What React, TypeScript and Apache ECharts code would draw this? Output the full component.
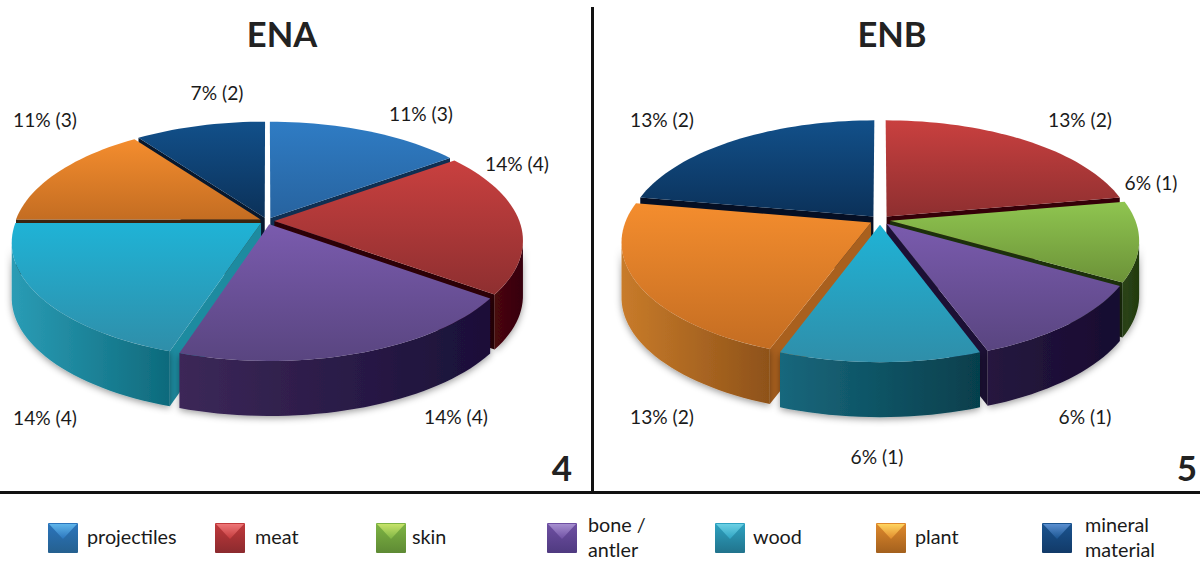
import React, { useEffect, useRef } from "react";
import * as echarts from "echarts";

const categories = ["projectiles", "meat", "skin", "bone / antler", "wood", "plant", "mineral material"];
const enaCounts = [3, 4, 0, 4, 4, 3, 2];
const enaPercents = [11, 14, 0, 14, 14, 11, 7];
const enbCounts = [0, 2, 1, 1, 1, 2, 2];
const enbPercents = [0, 13, 6, 6, 6, 13, 13];

const FONT = "Lato, 'Open Sans', sans-serif";
const topColors = [
  ["#2f7cc4", "#27639f"], ["#c9403f", "#8e2f30"], ["#8fc550", "#6c9238"], ["#7a5bae", "#594580"],
  ["#1fb3d6", "#2f8ea9"], ["#f48d2e", "#c46d22"], ["#12508a", "#0b3159"],
];
const enaWalls = [
  ["#1f4f80", "#123558"], ["#4a0810", "#36000a"], ["#2c4514", "#223a10"], ["#3c2858", "#1a0f38"],
  ["#2a9cb5", "#0e6a7c"], ["#c87b2a", "#8e5219"], ["#0d2f52", "#0a2340"],
];
const enbWalls = [
  ["#1f4f80", "#123558"], ["#4a0810", "#36000a"], ["#2c4514", "#223a10"], ["#26163f", "#170c30"],
  ["#17677c", "#063f4c"], ["#c87b2a", "#8e5219"], ["#0d2f52", "#0a2340"],
];
const swatch = [
  ["#2b75bd", "#25608f", "#5fb5ea"], ["#c23a3c", "#8b2a2e", "#ee7677"], ["#7fb544", "#5e8a34", "#c6e36a"],
  ["#6f50a3", "#4f3a80", "#a68fd0"], ["#2ea3c2", "#21738c", "#6bd0e4"], ["#e08a2c", "#a3601d", "#ffd45f"],
  ["#1a5490", "#123a68", "#5a8fd0"],
];
const legendX = [48, 215, 376, 547, 715, 876, 1042];
const legendTextX = [87, 255, 412, 588, 753, 915, 1085];
const enaLabelPos = [[421, 113], [517, 163], null, [456, 416], [45, 417], [45, 119], [217, 92]];
const enbLabelPos = [null, [1080, 119], [1151, 182], [1085, 416], [877, 456], [662, 416], [662, 119]];
const enaCut = ["#0f2f52", "#2c0006", "", "#2a1a48", "#1d8ba0", "#3a2410", "#07182e"];
const enbCut = ["", "#350008", "#1c300c", "#1c1035", "#1d8ba0", "#a9601e", "#050f24"];

const K = 0.165, RX = 245, RY = 113, DEPTH = 55;

function pieSeries(name: string, counts: number[], percents: number[], cx: number, cy: number,
  explode: number, labelPos: any[], cut: string[], walls: string[][]) {
  const idx = counts.map((c, i) => i).filter((i) => counts[i] > 0);
  const total = counts.reduce((a, b) => a + b, 0);
  const starts: Record<number, number> = {};
  let acc = 0;
  idx.forEach((i) => { starts[i] = acc; acc += counts[i]; });
  return {
    type: "custom", name, coordinateSystem: "none", silent: true, clip: false,
    data: idx.map((i) => [counts[i], i, percents[i]]),
    renderItem: (_p: any, api: any) => {
      const val = api.value(0), cat = api.value(1), pct = api.value(2);
      const a0 = (starts[cat] / total) * 360, a1 = ((starts[cat] + val) / total) * 360;
      const rad = (d: number) => (d * Math.PI) / 180;
      const mid = (a0 + a1) / 2;
      const ox = Math.sin(rad(mid)) * explode, oz = -Math.cos(rad(mid)) * explode;
      const pr = (mx: number, mz: number, h: number) => {
        const s = 1 / (1 - K * mz);
        return [cx + RX * mx * s, cy + RY * mz * s + h * DEPTH];
      };
      const rim = (d: number, h: number) => pr(ox + Math.sin(rad(d)), oz - Math.cos(rad(d)), h);
      const apex = (h: number) => pr(ox, oz, h);
      const arc = (from: number, to: number, h: number) => {
        const n = Math.max(2, Math.ceil(Math.abs(to - from) / 2));
        const out = [];
        for (let j = 0; j <= n; j++) out.push(rim(from + ((to - from) * j) / n, h));
        return out;
      };
      const order = Math.round(-Math.cos(rad(mid)) * 1000) + 2000;
      const children: any[] = [];
      const vis0 = Math.max(a0, 99), vis1 = Math.min(a1, 261);
      const grad = (c: string[], x2: number, y2: number) =>
        new echarts.graphic.LinearGradient(0, 0, x2, y2, [{ offset: 0, color: c[0] }, { offset: 1, color: c[1] }]);
      const faces: number[] = [];
      if (-Math.cos(rad(a0 - 90)) > 0) faces.push(a0);
      if (-Math.cos(rad(a1 + 90)) > 0) faces.push(a1);
      faces.forEach((d) => {
        children.push({
          type: "polygon", z2: order,
          shape: { points: [apex(0), rim(d, 0), rim(d, 1), apex(1)] },
          style: { fill: cut[cat] },
        });
      });
      if (vis1 > vis0) {
        children.push({
          type: "polygon", z2: order + 1,
          shape: { points: [...arc(vis0, vis1, 0), ...arc(vis1, vis0, 1)] },
          style: {
            fill: grad(walls[cat], 1, 0),
            shadowBlur: 7, shadowColor: "rgba(0,0,0,0.4)", shadowOffsetY: 2,
          },
        });
      }
      children.push({
        type: "polygon", z2: order + 2,
        shape: { points: [apex(0), ...arc(a0, a1, 0)] },
        style: { fill: grad(topColors[cat], 0, 1) },
      });
      const lp = labelPos[cat];
      children.push({
        type: "text", z2: 9000,
        style: {
          text: `${pct}% (${val})`, x: lp[0], y: lp[1], align: "center", verticalAlign: "middle",
          font: `19.2px ${FONT}`, fill: "#1a1a1a",
        },
      });
      return { type: "group", children };
    },
  };
}

function legendGraphics() {
  const out: any[] = [];
  categories.forEach((c, i) => {
    const x = legendX[i], y = 523, w = 30, h = 30;
    out.push({
      type: "rect", shape: { x, y, width: w, height: h, r: 1 },
      style: {
        fill: new echarts.graphic.LinearGradient(0, 0, 0, 1, [
          { offset: 0, color: swatch[i][0] }, { offset: 1, color: swatch[i][1] },
        ]),
      },
    });
    out.push({
      type: "polygon", shape: { points: [[x + 1, y + 1], [x + w - 1, y + 1], [x + w / 2, y + 16]] },
      style: {
        fill: new echarts.graphic.LinearGradient(0, 0, 0, 1, [
          { offset: 0, color: swatch[i][2] }, { offset: 1, color: swatch[i][0] },
        ]),
      },
    });
    const words = c.startsWith("bone") ? ["bone /", "antler"] : c.startsWith("mineral") ? ["mineral", "material"] : [c];
    words.forEach((t, j) => {
      const ty = words.length === 1 ? 536 : 524 + j * 25;
      out.push({
        type: "text",
        style: { text: t, x: legendTextX[i], y: ty, align: "left", verticalAlign: "middle", font: `19.8px ${FONT}`, fill: "#1a1a1a" },
      });
    });
  });
  return out;
}

function big(text: string, x: number, y: number, size: number) {
  return {
    type: "text",
    style: { text, x, y, align: "center", verticalAlign: "middle", font: `bold ${size}px ${FONT}`, fill: "#222" },
  };
}

export default function App() {
  const ref = useRef<HTMLDivElement>(null);
  useEffect(() => {
    document.body.style.margin = "0";
    const chart = echarts.init(ref.current!, null, { renderer: "svg" });
    chart.setOption({
      animation: false,
      backgroundColor: "#fff",
      series: [
        pieSeries("ENA", enaCounts, enaPercents, 267, 221, 0.03, enaLabelPos, enaCut, enaWalls),
        pieSeries("ENB", enbCounts, enbPercents, 880, 220, 0.042, enbLabelPos, enbCut, enbWalls),
      ],
      graphic: [
        { type: "line", shape: { x1: 592.5, y1: 7, x2: 592.5, y2: 491 }, style: { stroke: "#111", lineWidth: 3 } },
        { type: "line", shape: { x1: 0, y1: 492.5, x2: 1200, y2: 492.5 }, style: { stroke: "#111", lineWidth: 3 } },
        big("ENA", 282, 33, 34.5),
        big("ENB", 892, 33, 34.5),
        big("4", 562, 467, 35),
        big("5", 1187, 467, 35),
        ...legendGraphics(),
      ],
    });
    return () => chart.dispose();
  }, []);
  return <div ref={ref} style={{ position: "absolute", left: 0, top: 0, width: 1200, height: 563 }} />;
}
